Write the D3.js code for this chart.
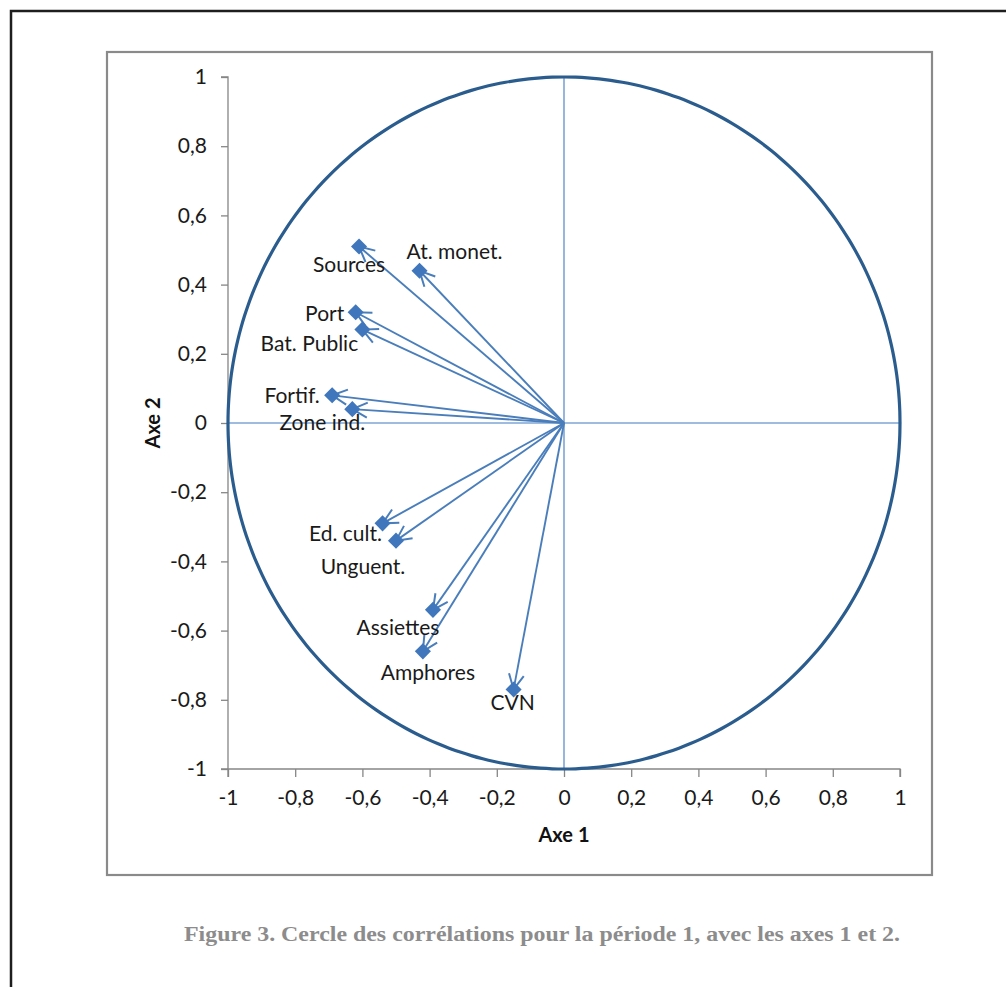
<!DOCTYPE html>
<html>
<head>
<meta charset="utf-8">
<script src="https://cdn.jsdelivr.net/npm/d3@7"></script>
<style>
  html, body { margin: 0; padding: 0; background: #ffffff; }
  svg { display: block; }
</style>
</head>
<body>
<svg id="chart" width="1006" height="987"></svg>
<script>
// ---- Data ----
const variables = ["Sources", "At. monet.", "Port", "Bat. Public", "Fortif.", "Zone ind.",
                   "Ed. cult.", "Unguent.", "Assiettes", "Amphores", "CVN"];
const axe1 = [-0.61, -0.43, -0.62, -0.60, -0.69, -0.63, -0.54, -0.50, -0.39, -0.42, -0.15];
const axe2 = [0.51, 0.44, 0.32, 0.27, 0.08, 0.04, -0.29, -0.34, -0.54, -0.66, -0.77];
const xTicks = [-1, -0.8, -0.6, -0.4, -0.2, 0, 0.2, 0.4, 0.6, 0.8, 1];
const yTicks = [-1, -0.8, -0.6, -0.4, -0.2, 0, 0.2, 0.4, 0.6, 0.8, 1];
const xTickLabels = ["-1", "-0,8", "-0,6", "-0,4", "-0,2", "0", "0,2", "0,4", "0,6", "0,8", "1"];
const yTickLabels = ["-1", "-0,8", "-0,6", "-0,4", "-0,2", "0", "0,2", "0,4", "0,6", "0,8", "1"];
const xTitle = "Axe 1";
const yTitle = "Axe 2";
const caption = "Figure 3. Cercle des corrélations pour la période 1, avec les axes 1 et 2.";

// ---- Label placement (pixel offsets from each point) ----
const labelDx = [-10, 35, -31, -53, -40, -30, -37, -33, -35, 5, -1];
const labelDy = [17, -20, 0, 13, -1, 12, 9, 25, 17, 20, 12];

// ---- Layout ----
const svg = d3.select("#chart");
const x = d3.scaleLinear().domain([-1, 1]).range([228, 900]);
const y = d3.scaleLinear().domain([-1, 1]).range([769, 77]);
const vecColor = "#4a7ebb";
const markColor = "#3f76bc";
const labelFont = "Lato, 'Open Sans', sans-serif";

// outer page frame
svg.append("rect")
  .attr("x", 11).attr("y", 11).attr("width", 1100).attr("height", 1100)
  .attr("fill", "#ffffff").attr("stroke", "#1e1e1e").attr("stroke-width", 2.5);

// inner chart frame
svg.append("rect")
  .attr("x", 107).attr("y", 52).attr("width", 825).attr("height", 823)
  .attr("fill", "#ffffff").attr("stroke", "#8a8a8a").attr("stroke-width", 2.2);

// axes
const yAxis = d3.axisLeft(y).tickValues(yTicks).tickSize(7).tickPadding(14)
  .tickFormat((d, i) => yTickLabels[i]);
const xAxis = d3.axisBottom(x).tickValues(xTicks).tickSize(8).tickPadding(13)
  .tickFormat((d, i) => xTickLabels[i]);

const gy = svg.append("g").attr("transform", `translate(${x(-1)},0)`).call(yAxis);
const gx = svg.append("g").attr("transform", `translate(0,${y(-1)})`).call(xAxis);
[gx, gy].forEach(g => {
  g.select(".domain").attr("stroke", "#868686").attr("stroke-width", 1.3);
  g.selectAll(".tick line").attr("stroke", "#868686").attr("stroke-width", 1.3);
  g.selectAll(".tick text").attr("fill", "#1a1a1a")
    .style("font-family", labelFont).style("font-size", "21px");
});
gy.select(".domain").attr("d", `M-7,${y(1)}H0V${y(-1)}H-7`);
gx.select(".domain").attr("d", `M${x(-1)},8V0H${x(1)}V8`);

// center cross
svg.append("line")
  .attr("x1", x(-1)).attr("x2", x(1)).attr("y1", y(0)).attr("y2", y(0))
  .attr("stroke", "#7ea4d6").attr("stroke-width", 1.6);
svg.append("line")
  .attr("x1", x(0)).attr("x2", x(0)).attr("y1", y(1)).attr("y2", y(-1))
  .attr("stroke", "#7ea4d6").attr("stroke-width", 1.6);

// correlation circle
const circlePts = d3.range(0, 361, 2).map(a => [Math.cos(a * Math.PI / 180), Math.sin(a * Math.PI / 180)]);
svg.append("path")
  .datum(circlePts)
  .attr("d", d3.line().x(d => x(d[0])).y(d => y(d[1])).curve(d3.curveCardinalClosed))
  .attr("fill", "none").attr("stroke", "#2b5c8e").attr("stroke-width", 3.2);

// arrow marker
svg.append("defs").append("marker")
  .attr("id", "arrow").attr("markerUnits", "userSpaceOnUse")
  .attr("viewBox", "-18 -10 22 20").attr("markerWidth", 22).attr("markerHeight", 20)
  .attr("refX", 0).attr("refY", 0).attr("orient", "auto")
  .append("path")
  .attr("d", "M-15,-7.5L0,0L-15,7.5")
  .attr("fill", "none").attr("stroke", vecColor).attr("stroke-width", 2);

const idx = d3.range(variables.length);

// vectors
svg.append("g").selectAll("line").data(idx).join("line")
  .attr("x1", x(0)).attr("y1", y(0))
  .attr("x2", i => x(axe1[i])).attr("y2", i => y(axe2[i]))
  .attr("stroke", vecColor).attr("stroke-width", 1.9)
  .attr("marker-end", "url(#arrow)");

// diamond markers
svg.append("g").selectAll("path").data(idx).join("path")
  .attr("transform", i => `translate(${x(axe1[i])},${y(axe2[i])})`)
  .attr("d", d3.symbol().type(d3.symbolDiamond2).size(165))
  .attr("fill", markColor);

// labels
svg.append("g").selectAll("text").data(idx).join("text")
  .attr("x", i => x(axe1[i]) + labelDx[i])
  .attr("y", i => y(axe2[i]) + labelDy[i])
  .attr("text-anchor", "middle").attr("dominant-baseline", "central")
  .attr("fill", "#1a1a1a")
  .style("font-family", labelFont).style("font-size", "21px")
  .text(i => variables[i]);

// axis titles
svg.append("text")
  .attr("x", x(0)).attr("y", 834)
  .attr("text-anchor", "middle").attr("dominant-baseline", "central")
  .attr("fill", "#111").style("font-family", labelFont)
  .style("font-weight", "bold").style("font-size", "20px")
  .text(xTitle);
svg.append("text")
  .attr("transform", `translate(152,${y(0)}) rotate(-90)`)
  .attr("text-anchor", "middle").attr("dominant-baseline", "central")
  .attr("fill", "#111").style("font-family", labelFont)
  .style("font-weight", "bold").style("font-size", "20px")
  .text(yTitle);

// caption
svg.append("text")
  .attr("x", 184).attr("y", 941)
  .attr("textLength", 716).attr("lengthAdjust", "spacingAndGlyphs")
  .attr("fill", "#8c8c8c")
  .style("font-family", "'Liberation Serif', 'Times New Roman', serif")
  .style("font-weight", "bold").style("font-size", "20px")
  .text(caption);
</script>
</body>
</html>
